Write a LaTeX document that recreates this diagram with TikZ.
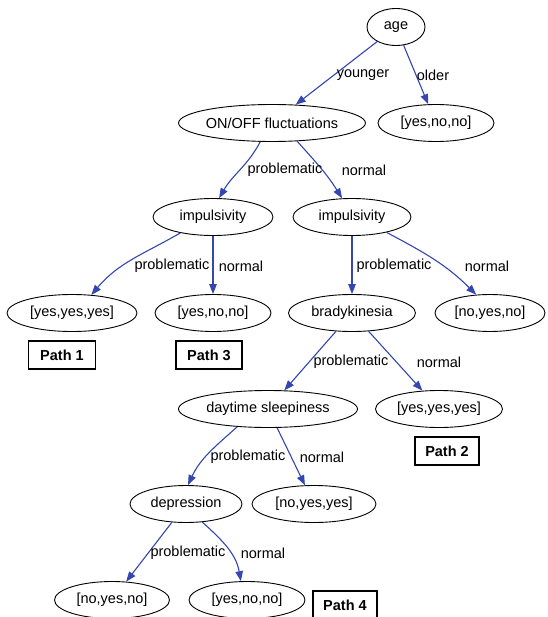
\documentclass[tikz,border=0pt]{standalone}
\usepackage{fontspec}
\setmainfont{Liberation Sans}
\usetikzlibrary{shapes.geometric,arrows.meta}
\definecolor{edgeblue}{RGB}{52,70,178}
\tikzset{
  ell/.style={draw, ellipse, line width=0.9pt, inner sep=0pt, minimum height=37pt, font=\fontsize{14.5}{17}\selectfont},
  pathbox/.style={draw, rectangle, line width=1.1pt, inner sep=0pt, minimum width=66pt, minimum height=28pt, font=\fontsize{14.5}{17}\selectfont\bfseries},
  lbl/.style={inner sep=0pt, font=\fontsize{14.5}{17}\selectfont},
  edge/.style={draw=edgeblue, line width=1.1pt, -{Triangle[length=10pt,width=7.5pt]}, fill=none},
}
\begin{document}
\begin{tikzpicture}[x=1pt,y=-1pt]
\useasboundingbox (0,0) rectangle (547,617);
% nodes
\node[ell, minimum width=58pt]  (age)   at (396,27)  {age};
\node[ell, minimum width=176pt] (onoff) at (272,123) {ON/OFF fluctuations};
\node[ell, minimum width=116pt] (ynnA)  at (436,123) {[yes,no,no]};
\node[ell, minimum width=120pt] (impL)  at (213,217) {impulsivity};
\node[ell, minimum width=118pt] (impR)  at (352,217) {impulsivity};
\node[ell, minimum width=130pt] (yyyL)  at (72,313)  {[yes,yes,yes]};
\node[ell, minimum width=116pt] (ynnM)  at (213,313) {[yes,no,no]};
\node[ell, minimum width=127pt] (brady) at (352,313) {bradykinesia};
\node[ell, minimum width=110pt] (nynR)  at (490,313) {[no,yes,no]};
\node[ell, minimum width=179pt] (day)   at (268,409) {daytime sleepiness};
\node[ell, minimum width=127pt] (yyyR)  at (439,409) {[yes,yes,yes]};
\node[ell, minimum width=112pt] (dep)   at (186,504) {depression};
\node[ell, minimum width=124pt] (nyy)   at (314,504) {[no,yes,yes]};
\node[ell, minimum width=115pt] (nynB)  at (112,600) {[no,yes,no]};
\node[ell, minimum width=116pt] (ynnB)  at (247,600) {[yes,no,no]};
% path boxes
\node[pathbox, minimum width=67pt] (p1) at (62,355)  {Path 1};
\node[pathbox] (p3) at (209,355) {Path 3};
\node[pathbox, minimum width=64pt] (p2) at (447,451) {Path 2};
\node[pathbox, minimum width=64pt] (p4) at (345,605) {Path 4};
% edges
\draw[edge] (age) -- (onoff);
\draw[edge] (age) -- (ynnA);
\draw[edge] (onoff.-122) to[out=-118,in=60] (impL.72);
\draw[edge] (onoff.-36) to[out=-48,in=122] (impR.118);
\draw[edge] (impL.-154) to[out=-150,in=50] (yyyL.43);
\draw[edge] (impL) -- (ynnM);
\draw[edge] (impR) -- (brady);
\draw[edge] (impR.-24) to[out=-28,in=135] (nynR.127);
\draw[edge] (brady) -- (day);
\draw[edge] (brady) -- (yyyR);
\draw[edge] (day.-150) to[out=-138,in=65] (dep.84);
\draw[edge] (day) -- (nyy);
\draw[edge] (dep) -- (nynB);
\draw[edge] (dep.-48) to[out=-42,in=100] (ynnB.108);
% edge labels
\node[lbl] (l1)  at (363,75)  {younger};
\node[lbl] (l2)  at (433,75)  {older};
\node[lbl] (l3)  at (285,170) {problematic};
\node[lbl] (l4)  at (364,170) {normal};
\node[lbl] (l5)  at (172,266) {problematic};
\node[lbl] (l6)  at (241,266) {normal};
\node[lbl] (l7)  at (394,266) {problematic};
\node[lbl] (l8)  at (487,266) {normal};
\node[lbl] (l9)  at (351,362) {problematic};
\node[lbl] (l10) at (439,362) {normal};
\node[lbl] (l11) at (248,457) {problematic};
\node[lbl] (l12) at (322,457) {normal};
\node[lbl] (l13) at (188,553) {problematic};
\node[lbl] (l14) at (263,553) {normal};
\end{tikzpicture}
\end{document}
